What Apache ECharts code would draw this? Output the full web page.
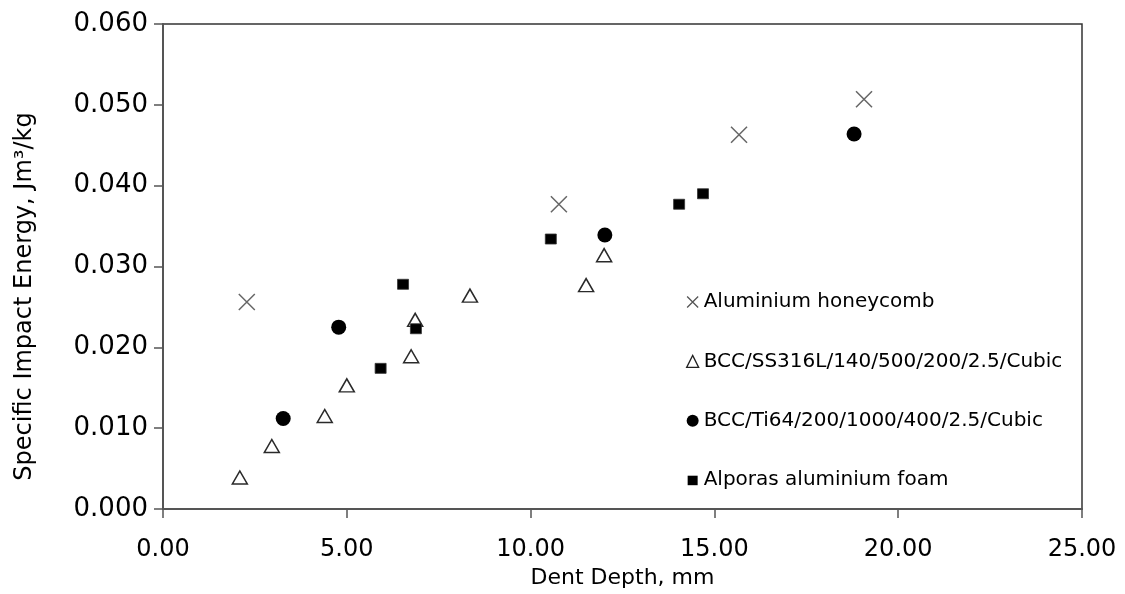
<!DOCTYPE html>
<html>
<head>
<meta charset="utf-8">
<script src="https://cdn.jsdelivr.net/npm/echarts@6/dist/echarts.min.js"></script>
<style>
html,body{margin:0;padding:0;background:#fff;}
#chart{width:1125px;height:594px;}
</style>
</head>
<body>
<div id="chart"></div>
<script>
var seriesNames = ['Aluminium honeycomb', 'BCC/SS316L/140/500/200/2.5/Cubic', 'BCC/Ti64/200/1000/400/2.5/Cubic', 'Alporas aluminium foam'];
var honeycomb = [[2.28,0.0256],[10.77,0.0377],[15.67,0.0463],[19.07,0.0507]];
var ss316l = [[2.09,0.0039],[2.96,0.0078],[4.40,0.0115],[5.00,0.0153],[6.75,0.0189],[6.86,0.0234],[8.35,0.0264],[11.51,0.0277],[12.00,0.0314]];
var ti64 = [[3.27,0.0112],[4.78,0.0225],[12.02,0.0339],[18.80,0.0464]];
var alporas = [[5.92,0.0174],[6.53,0.0278],[6.88,0.0223],[10.55,0.0334],[14.04,0.0377],[14.69,0.0390]];
var xAxisTitle = 'Dent Depth, mm';
var yAxisTitle = 'Specific Impact Energy, Jm\u00B3/kg';

var FONT = 'DejaVu Sans';
var chart = echarts.init(document.getElementById('chart'));
var crossPath = 'path://M0,0L10,10M10,0L0,10';
var legendCross = 'path://M0,0M0.5,0.5L11.5,11.5M11.5,0.5L0.5,11.5M12,12';
var legendRect = 'path://M0,0M1,1.5h10v9.5h-10zM12,12';
chart.setOption({
  animation: false,
  backgroundColor: '#fff',
  grid: {left: 163, right: 43, top: 24, bottom: 85, show: true, borderColor: '#333', borderWidth: 1.5, backgroundColor: 'transparent'},
  legend: {
    orient: 'vertical', left: 681, top: 287, itemWidth: 12, itemHeight: 12, itemGap: 39.4,
    textStyle: {fontFamily: FONT, fontSize: 20, color: '#000', lineHeight: 20},
    data: [
      {name: seriesNames[0], icon: legendCross, itemStyle: {color: 'transparent', borderColor: '#555', borderWidth: 1.3, opacity: 1}},
      {name: seriesNames[1], icon: 'triangle', itemStyle: {color: '#fff', borderColor: '#222', borderWidth: 1.3, opacity: 1}},
      {name: seriesNames[2], icon: 'circle', itemStyle: {color: '#000', opacity: 1}},
      {name: seriesNames[3], icon: legendRect, itemStyle: {color: '#000', borderWidth: 0, opacity: 1}}
    ]
  },
  xAxis: {
    type: 'value', min: 0, max: 25, interval: 5,
    name: xAxisTitle, nameLocation: 'middle', nameGap: 44,
    nameTextStyle: {fontFamily: FONT, fontSize: 22, color: '#000'},
    axisLine: {show: true, onZero: false, lineStyle: {color: '#555', width: 2}},
    axisTick: {show: true, inside: false, length: 9, lineStyle: {color: '#555', width: 1.5}},
    axisLabel: {margin: 29, fontFamily: FONT, fontSize: 24, color: '#000', formatter: function(v){return v.toFixed(2);}},
    splitLine: {show: false}
  },
  yAxis: {
    type: 'value', min: 0, max: 0.06, interval: 0.01,
    name: yAxisTitle, nameLocation: 'middle', nameGap: 126,
    nameTextStyle: {fontFamily: FONT, fontSize: 24, color: '#000', padding: [0, 60, 0, 0]},
    axisLine: {show: true, onZero: false, lineStyle: {color: '#555', width: 2}},
    axisTick: {show: true, inside: false, length: 9, lineStyle: {color: '#555', width: 1.5}},
    axisLabel: {margin: 15, fontFamily: FONT, fontSize: 26, color: '#000', formatter: function(v){return v.toFixed(3);}},
    splitLine: {show: false}
  },
  series: [
    {name: seriesNames[0], type: 'scatter', data: honeycomb, symbol: crossPath, symbolSize: 16,
     itemStyle: {color: 'transparent', borderColor: '#666', borderWidth: 1.5, opacity: 1}},
    {name: seriesNames[1], type: 'scatter', data: ss316l, symbol: 'triangle', symbolSize: [15, 13],
     itemStyle: {color: '#fff', borderColor: '#2a2a2a', borderWidth: 1.5, opacity: 1}},
    {name: seriesNames[2], type: 'scatter', data: ti64, symbol: 'circle', symbolSize: 15,
     itemStyle: {color: '#000', opacity: 1}},
    {name: seriesNames[3], type: 'scatter', data: alporas, symbol: 'rect', symbolSize: [11, 10],
     itemStyle: {color: '#000', borderColor: '#333', borderWidth: 0.8, opacity: 1}}
  ]
});
</script>
</body>
</html>
